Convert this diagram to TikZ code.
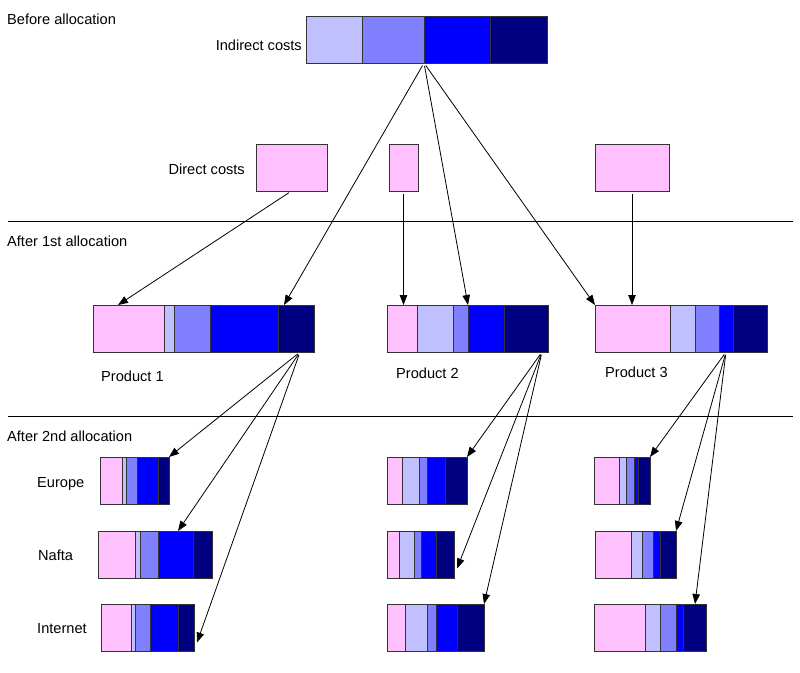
\documentclass[tikz,border=0pt]{standalone}
\usepackage{fontspec}
\setmainfont{Liberation Sans}
\usetikzlibrary{arrows.meta,positioning}
\definecolor{pinkc}{HTML}{FFC0FF}
\definecolor{lightc}{HTML}{C0C0FF}
\definecolor{midc}{HTML}{8080FF}
\definecolor{bluec}{HTML}{0000FF}
\definecolor{darkc}{HTML}{000080}
% bar of cost segments: name, top, list of x-start/x-end/colour
\newcommand{\costbar}[3]{%
  \foreach \xa/\xb/\col [count=\i] in {#3}{
    \pgfmathsetmacro\segw{\xb-\xa}
    \node[seg,fill=\col,minimum width=\segw pt] (#1-\i) at ({(\xa+\xb)/2},{#2+23.5}) {};
  }}
\newcommand{\prodbar}[8]{\costbar{#1}{#2}{#3/#4/pinkc,#4/#5/lightc,#5/#6/midc,#6/#7/bluec,#7/#8/darkc}}

\begin{document}
\begin{tikzpicture}[x=1pt,y=-1pt,
  seg/.style={draw=black!80,line width=0.9pt,inner sep=0pt,outer sep=0pt,minimum height=47pt},
  lbl/.style={font=\fontsize{14.6}{17}\selectfont,inner sep=0pt},
  >={Triangle[length=10pt,width=7.5pt]},
  arr/.style={->,line width=0.8pt,shorten <=3pt}]
\useasboundingbox (0,0) rectangle (800,672);

% before allocation
\node[lbl,anchor=base west] (before) at (7,24) {Before allocation};
\costbar{ind}{16}{306/362/lightc,362/424/midc,424/490/bluec,490/547/darkc}
\node[lbl,anchor=base east] (indlbl) at (302,50) {Indirect costs};
\costbar{dc1}{144}{256/327/pinkc}
\costbar{dc2}{144}{389/418/pinkc}
\costbar{dc3}{144}{595/669/pinkc}
\node[lbl,anchor=base east] (dclbl) at (245,174) {Direct costs};
\draw[line width=0.8pt] (8,221) -- (793,221);

% after 1st allocation
\node[lbl,anchor=base west] (first) at (7,246) {After 1st allocation};
\prodbar{p1}{305}{93}{164}{174}{210}{278}{314}
\prodbar{p2}{305}{387}{417}{453}{468}{504}{548}
\prodbar{p3}{305}{595}{670}{695}{719}{733}{767}
\node[lbl,anchor=base west] (prod1) at (101,381) {Product 1};
\node[lbl,anchor=base west] (prod2) at (396,378) {Product 2};
\node[lbl,anchor=base west] (prod3) at (605,377) {Product 3};
\draw[line width=0.8pt] (8,416) -- (793,416);

% after 2nd allocation
\node[lbl,anchor=base west] (second) at (7,441) {After 2nd allocation};
\prodbar{e1}{457}{100}{122}{126}{137}{158}{169}
\prodbar{e2}{457}{387}{402}{419}{427}{445}{467}
\prodbar{e3}{457}{594}{619}{626}{634}{638}{650}
\prodbar{n1}{531}{98}{135}{140}{158}{193}{212}
\prodbar{n2}{531}{387}{399}{414}{421}{436}{454}
\prodbar{n3}{531}{595}{631}{642}{653}{660}{676}
\prodbar{i1}{604}{101}{131}{135}{150}{178}{194}
\prodbar{i2}{604}{387}{405}{427}{436}{457}{484}
\prodbar{i3}{604}{594}{645}{660}{676}{683}{706}
\node[lbl,anchor=base west] (europe) at (37,487) {Europe};
\node[lbl,anchor=base west] (nafta) at (38,560) {Nafta};
\node[lbl,anchor=base west] (internet) at (37,633) {Internet};

% allocation arrows
\draw[arr] (ind-2.south east) -- ([xshift=6pt]p1-5.north west);
\draw[arr] (ind-2.south east) -- (p2-4.north west);
\draw[arr] (ind-2.south east) -- (p3-1.north west);
\draw[arr] (dc1-1.south) -- ([xshift=25pt]p1-1.north west);
\draw[arr] (dc2-1.south) -- (dc2-1.south |- p2-1.north);
\draw[arr] (dc3-1.south) -- (dc3-1.south |- p3-1.north);

\draw[arr] ([xshift=-14pt]p1-5.south east) -- (e1-5.north east);
\draw[arr] ([xshift=-14pt]p1-5.south east) -- ([xshift=20pt]n1-4.north west);
\draw[arr] ([xshift=-14pt]p1-5.south east) -- ([shift={(3,15)}]i1-5.east);
\draw[arr] ([xshift=-6pt]p2-5.south east) -- (e2-5.north east);
\draw[arr] ([xshift=-6pt]p2-5.south east) -- ([shift={(3,14)}]n2-5.east);
\draw[arr] ([xshift=-6pt]p2-5.south east) -- (i2-5.north east);
\draw[arr] (p3-4.south) -- (e3-5.north east);
\draw[arr] (p3-4.south) -- (n3-5.north east);
\draw[arr] (p3-4.south) -- ([xshift=12pt]i3-5.north west);
\end{tikzpicture}
\end{document}
